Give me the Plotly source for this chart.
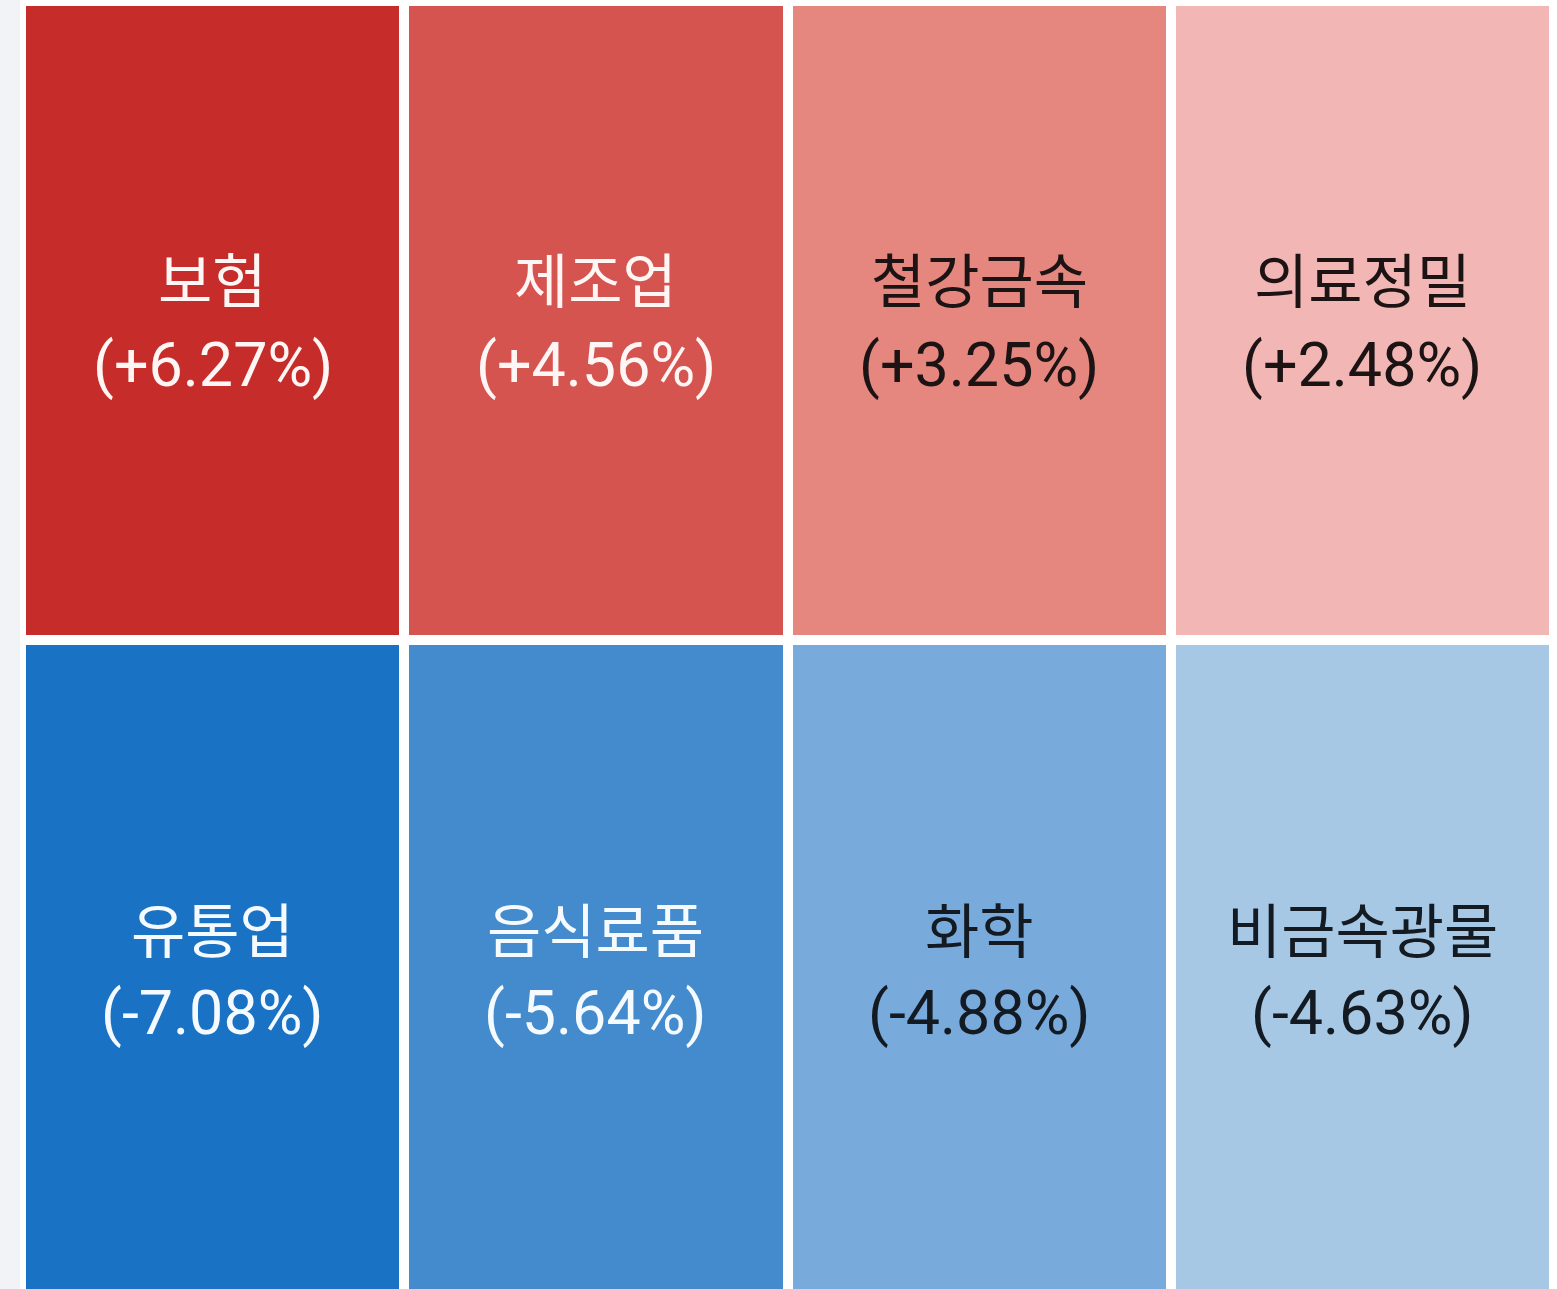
import plotly.graph_objects as go

# ---- data ----
row1_names = ["보험", "제조업", "철강금속", "의료정밀"]
row1_values = [6.27, 4.56, 3.25, 2.48]
row2_names = ["유통업", "음식료품", "화학", "비금속광물"]
row2_values = [-7.08, -5.64, -4.88, -4.63]

row1_colors = ["#c62d2a", "#d6544f", "#e5877f", "#f2b7b4"]
row2_colors = ["#1a72c4", "#438bcd", "#78aadb", "#a7c8e5"]
row1_text_colors = ["#fdf6f5", "#fdf6f5", "#1c1414", "#1c1414"]
row2_text_colors = ["#f5fafe", "#f5fafe", "#141a22", "#141a22"]

W, H = 1557, 1289
ML, MR, MT, MB = 21, 3, 1, 0
plot_h = H - MT - MB
U = 638.5
y_bottom = 2 - plot_h / U

# colorscale mapping each value to its own colour
vals = row1_values + row2_values
cols = row1_colors + row2_colors
zmin, zmax = min(vals), max(vals)
pairs = sorted(zip(vals, cols))
colorscale = [[(v - zmin) / (zmax - zmin), c] for v, c in pairs]

fig = go.Figure()
fig.add_trace(go.Heatmap(
    z=[row2_values, row1_values],
    x=list(range(len(row1_names))),
    y=[y_bottom - 0.05, 1, 2],  # row edges; bottom row runs past the visible area
    zmin=zmin, zmax=zmax,
    colorscale=colorscale,
    showscale=False,
    xgap=10, ygap=10,
    hoverinfo="skip",
))

name_font = "Noto Sans CJK KR, Noto Sans, sans-serif"
value_font = "Roboto, Noto Sans CJK KR, sans-serif"
rows = [
    (1.5, row1_names, row1_values, row1_text_colors, 43, -45),
    (0.5, row2_names, row2_values, row2_text_colors, 31, -54),
]
for yc, names, values, tcols, s_name, s_val in rows:
    for i, (n, v, tc) in enumerate(zip(names, values, tcols)):
        fig.add_annotation(x=i, y=yc, xref="x", yref="y", text=n, showarrow=False,
                           yshift=s_name, font=dict(family=name_font, size=59, color=tc))
        fig.add_annotation(x=i, y=yc, xref="x", yref="y", text=f"({v:+.2f}%)", showarrow=False,
                           yshift=s_val, font=dict(family=value_font, size=61, color=tc))

plot_w = W - ML - MR
fig.add_shape(type="rect", xref="paper", yref="paper",
              x0=-ML / plot_w, x1=-1 / plot_w, y0=-0.01, y1=1.01,
              fillcolor="#f1f3f7", line_width=0, layer="below")

fig.update_layout(
    width=W, height=H,
    margin=dict(l=ML, r=MR, t=MT, b=MB, pad=0),
    paper_bgcolor="#ffffff",
    plot_bgcolor="#ffffff",
    xaxis=dict(range=[-0.5, 3.5], visible=False, fixedrange=True),
    yaxis=dict(range=[y_bottom, 2], visible=False, fixedrange=True),
    showlegend=False,
)

fig.write_html("out.html", config={"displayModeBar": False},
               post_script="document.body.style.margin='0';document.body.style.overflow='hidden';")
